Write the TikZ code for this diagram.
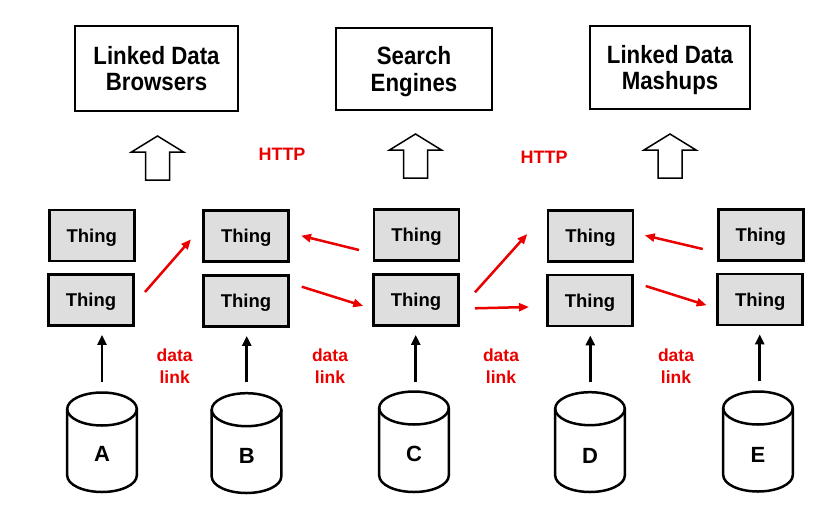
\documentclass[tikz,border=0pt]{standalone}
\usepackage{fontspec}
\setmainfont{Liberation Sans}
\newfontfamily\topfont{Liberation Sans}[FakeStretch=0.89]
\usetikzlibrary{arrows.meta,calc}
\definecolor{lred}{RGB}{235,0,0}
\definecolor{tgray}{RGB}{222,222,222}
\newcommand\mycyl[3]{%
  \draw[cyl] (#1-34.8,#2) -- (#1-34.8,#3) arc[start angle=180,end angle=360,x radius=34.8pt,y radius=16.5pt] -- (#1+34.8,#2);
  \draw[cyl] (#1,#2) ellipse[x radius=34.8pt,y radius=16.5pt];}
\begin{document}
\begin{tikzpicture}[x=1pt,y=-1pt,
  topbox/.style={draw, line width=2.8pt, align=center, text depth=0pt,
    font=\topfont\fontsize{25}{26.8}\selectfont\bfseries, inner sep=0pt},
  thing/.style={draw, fill=tgray, line width=2.8pt, minimum width=85pt, minimum height=51pt,
    inner sep=0pt, text depth=0pt, font=\fontsize{18.5}{20}\selectfont\bfseries},
  redar/.style={draw=lred, line width=2.5pt, -{Triangle[length=10pt,width=8pt]}},
  blkar/.style={line width=2.8pt, shorten >=8pt, -{Triangle[length=10pt,width=9pt]}},
  redlbl/.style={text=lred, align=center, font=\fontsize{17.5}{22.3}\selectfont\bfseries},
  httplbl/.style={text=lred, font=\fontsize{18}{20}\selectfont\bfseries},
  letter/.style={font=\fontsize{22}{24}\selectfont\bfseries},
  cyl/.style={line width=2.5pt},
  hollow/.style={line width=1.5pt},
  hollowup/.pic={\draw[hollow] (-12,44) -- (-12,16) -- (-26,16) -- (0,0) -- (26,16) -- (12,16) -- (12,44) -- cycle;}
]
\fill[white] (0,0) rectangle (829,511);
\useasboundingbox (0,0) rectangle (829,511);

% top boxes
\node[topbox, minimum width=163pt, minimum height=85pt] (b1) at (156.5,68.5) {Linked Data\\Browsers};
\node[topbox, minimum width=156pt, minimum height=82pt] (b2) at (414,69) {Search\\Engines};
\node[topbox, minimum width=160pt, minimum height=83pt] (b3) at (670,67.5) {Linked Data\\Mashups};

% hollow arrows
\pic at (157.5,136) {hollowup};
\pic at (415.5,134) {hollowup};
\pic at (670,134) {hollowup};

% HTTP labels
\node[httplbl] (h1) at (282,154) {HTTP};
\node[httplbl] (h2) at (544,157) {HTTP};

% things
\node[thing] (t1a) at (91.7,235.5) {Thing};
\node[thing] (t1b) at (91,300) {Thing};
\node[thing] (t2a) at (246.3,236) {Thing};
\node[thing] (t2b) at (246,301) {Thing};
\node[thing] (t3a) at (416.5,235) {Thing};
\node[thing] (t3b) at (416,300) {Thing};
\node[thing] (t4a) at (590.5,236) {Thing};
\node[thing] (t4b) at (590,300.5) {Thing};
\node[thing] (t5a) at (760.7,234.7) {Thing};
\node[thing] (t5b) at (760.3,299.5) {Thing};

% red links
\draw[redar] ([shift={(54,-8)}]t1b.center) -- ([shift={(-55.3,3.3)}]t2a.center);
\draw[redar] ([shift={(-57.5,15)}]t3a.center) -- ([shift={(54.7,-0.3)}]t2a.center);
\draw[redar] ([shift={(55.7,-14.3)}]t2b.center) -- ([shift={(-52.7,6)}]t3b.center);
\draw[redar] ([shift={(59,-7.7)}]t3b.center) -- ([shift={(-63.2,-2)}]t4a.center);
\draw[redar] ([shift={(59,8.3)}]t3b.center) -- ([shift={(-61,6.5)}]t4b.center);
\draw[redar] ([shift={(-58,14.3)}]t5a.center) -- ([shift={(54.2,-0.7)}]t4a.center);
\draw[redar] ([shift={(55.7,-14.5)}]t4b.center) -- ([shift={(-53.6,5.8)}]t5b.center);

% data link labels
\node[redlbl] (l1) at (174.7,366.5) {data\\link};
\node[redlbl] (l2) at (330,366.5) {data\\link};
\node[redlbl] (l3) at (501,366.5) {data\\link};
\node[redlbl] (l4) at (676,366.5) {data\\link};

% cylinders
\mycyl{102}{409}{475.5}
\mycyl{246.5}{409.7}{476.5}
\mycyl{414}{408}{475.5}
\mycyl{590}{408.7}{475.5}
\mycyl{758}{408}{475}
\node[letter] (dA) at (102,453.7) {A};
\node[letter] (dB) at (246.7,456) {B};
\node[letter] (dC) at (414,454) {C};
\node[letter] (dD) at (590,456) {D};
\node[letter] (dE) at (758,455) {E};

% black arrows
\coordinate (aA) at (102,381.7);
\coordinate (aB) at (246.7,382.3);
\coordinate (aC) at (415.7,381.7);
\coordinate (aD) at (590.3,382);
\coordinate (aE) at (759.7,380.7);
\draw[blkar] (aA) -- (aA |- t1b.south);
\draw[blkar] (aB) -- (aB |- t2b.south);
\draw[blkar] (aC) -- (aC |- t3b.south);
\draw[blkar] (aD) -- (aD |- t4b.south);
\draw[blkar] (aE) -- (aE |- t5b.south);
\end{tikzpicture}
\end{document}
